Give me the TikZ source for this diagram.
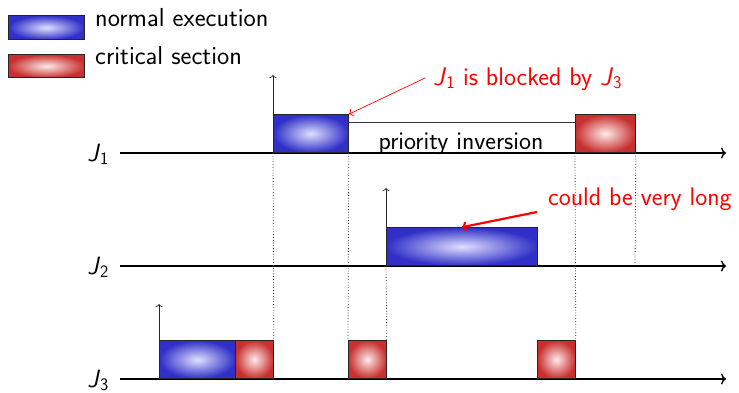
\documentclass[tikz,border=0pt]{standalone}
\usetikzlibrary{arrows.meta}
\renewcommand{\familydefault}{\sfdefault}
\definecolor{bluex}{RGB}{48,48,200}
\definecolor{redx}{RGB}{200,48,48}
\newcommand{\Jn}[1]{\textit{J}\textsubscript{#1}}
\begin{document}
\begin{tikzpicture}[x=1pt,y=1pt,
  blk/.style={draw=black!85, line width=0.8pt, inner sep=0pt, anchor=south west, minimum height=38pt},
  nrm/.style={blk, inner color=blue!12!white, outer color=bluex},
  crit/.style={blk, inner color=red!8!white, outer color=redx},
  axisline/.style={line width=1.4pt, -{To[length=5pt,width=11pt]}},
  upline/.style={line width=0.7pt, black!85, -{To[length=3pt,width=7pt]}},
  vdot/.style={dotted, line width=0.8pt, black!85},
  lbl/.style={font=\fontsize{25}{30}\selectfont, anchor=base east, inner sep=0pt},
  lgtext/.style={font=\fontsize{26}{30}\selectfont, anchor=base west, inner sep=0pt},
  note/.style={red, font=\fontsize{25.5}{30}\selectfont, anchor=base west, inner sep=0pt}
]
\useasboundingbox (0,0) rectangle (739,392);

% legend
\node[nrm, minimum width=76pt, minimum height=24pt] (lgb) at (8,352) {};
\node[crit, minimum width=76pt, minimum height=23pt] (lgr) at (8,314) {};
\node[lgtext] (lgbt) at (95,365) {normal execution};
\node[lgtext] (lgrt) at (95,327) {critical section};

% axes
\coordinate (a1s) at (120,239); \coordinate (a1e) at (726,239);
\coordinate (a2s) at (120,126); \coordinate (a2e) at (726,126);
\coordinate (a3s) at (120,13);  \coordinate (a3e) at (726,13);
\draw[axisline] (a1s) -- (a1e);
\draw[axisline] (a2s) -- (a2e);
\draw[axisline] (a3s) -- (a3e);
\node[lbl] (j1) at (109,231) {\Jn{1}};
\node[lbl] (j2) at (109,118) {\Jn{2}};
\node[lbl] (j3) at (109,5) {\Jn{3}};

% boxes
\node[nrm, minimum width=75pt] (b1) at (273,239) {};
\node[crit, minimum width=60pt] (r1) at (575,239) {};
\node[nrm, minimum width=151pt] (b2) at (386,126) {};
\node[nrm, minimum width=76pt] (b3) at (159,13) {};
\node[crit, minimum width=38pt] (r3a) at (235,13) {};
\node[crit, minimum width=38pt] (r3b) at (348,13) {};
\node[crit, minimum width=38pt] (r3c) at (537,13) {};

% release arrows
\coordinate (u1) at (273,317);
\coordinate (u2) at (386,204);
\coordinate (u3) at (159,88);
\draw[upline] (b1.south west) -- (u1);
\draw[upline] (b2.south west) -- (u2);
\draw[upline] (b3.south west) -- (u3);

% dotted guides
\coordinate (d5) at (635,126);
\draw[vdot] (b1.south west) -- (r3a.north east);
\draw[vdot] (b1.south east) -- (r3b.north west);
\draw[vdot] (b2.south west) -- (r3b.north east);
\draw[vdot] (r1.south west) -- (r3c.north east);
\draw[vdot] (r1.south east) -- (d5);

% priority inversion
\draw[line width=0.6pt, black!80] ([yshift=-8pt]b1.north east) -- ([yshift=-8pt]r1.north west);
\node[font=\fontsize{25.5}{30}\selectfont, anchor=base, inner sep=0pt] (pi) at (461,243) {priority inversion};

% notes
\node[note] (n1) at (433,307) {\Jn{1} is blocked by \Jn{3}};
\coordinate (c1) at (425,314);
\draw[red, line width=0.7pt, -{To[length=4pt,width=8pt]}] (c1) -- (b1.north east);
\node[note] (n2) at (548,187) {could be very long};
\coordinate (c2) at (537,180);
\draw[red, line width=2.2pt, -{To[length=5pt,width=10pt]}] (c2) -- (b2.north);
\end{tikzpicture}
\end{document}
